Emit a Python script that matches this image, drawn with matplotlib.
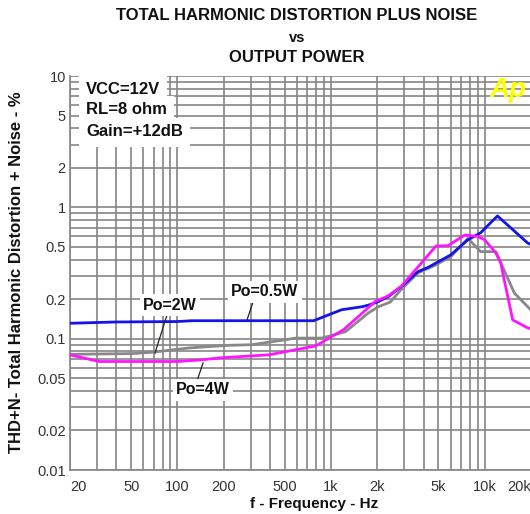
import matplotlib
matplotlib.use("Agg")
import matplotlib.pyplot as plt
from matplotlib.ticker import FixedLocator, LogLocator, NullFormatter

plt.rcParams['font.family'] = ['Liberation Sans', 'DejaVu Sans']

# ---- data ----
freq_05 = [20, 40, 100, 125, 200, 770, 1170, 1590, 1750, 2000, 2360, 2860, 3680, 4300, 6000, 7760, 9400, 12100, 19000, 20000]
thd_05 = [0.131, 0.134, 0.135, 0.137, 0.137, 0.137, 0.166, 0.175, 0.18, 0.19, 0.209, 0.249, 0.324, 0.35, 0.434, 0.565, 0.64, 0.86, 0.536, 0.52]

freq_2 = [20, 51, 70, 119, 216, 306, 500, 589, 869, 1240, 1750, 2030, 2430, 2860, 3680, 4700, 6000, 7760, 9400, 11800, 15600, 20000]
thd_2 = [0.076, 0.077, 0.079, 0.085, 0.089, 0.090, 0.098, 0.101, 0.101, 0.113, 0.157, 0.175, 0.19, 0.237, 0.317, 0.36, 0.42, 0.58, 0.46, 0.46, 0.222, 0.165]

freq_4 = [20, 31, 100, 145, 187, 394, 794, 1205, 1940, 2360, 2860, 4820, 5750, 7430, 9000, 10000, 11800, 12700, 15200, 19000, 20000]
thd_4 = [0.0753, 0.067, 0.067, 0.069, 0.0714, 0.0753, 0.088, 0.117, 0.192, 0.212, 0.25, 0.508, 0.51, 0.616, 0.60, 0.565, 0.45, 0.377, 0.139, 0.121, 0.119]

x_ticks = [20, 50, 100, 200, 500, 1000, 2000, 5000, 10000, 20000]
x_tick_labels = ['20', '50', '100', '200', '500', '1k', '2k', '5k', '10k', '20k']
y_ticks = [0.01, 0.02, 0.05, 0.1, 0.2, 0.5, 1, 2, 5, 10]
y_tick_labels = ['0.01', '0.02', '0.05', '0.1', '0.2', '0.5', '1', '2', '5', '10']

W, H = 530, 514
fig = plt.figure(figsize=(W / 100, H / 100), dpi=100)
ax = fig.add_axes([70 / W, (H - 470) / H, (531 - 70) / W, (470 - 76) / H])

ax.set_xscale('log')
ax.set_yscale('log')
ax.set_xlim(20, 20000)
ax.set_ylim(0.01, 10)

grid_c = '#858585'
ax.xaxis.set_major_locator(FixedLocator(x_ticks))
ax.yaxis.set_major_locator(FixedLocator(y_ticks))
ax.xaxis.set_minor_locator(LogLocator(base=10, subs=range(1, 10), numticks=50))
ax.yaxis.set_minor_locator(LogLocator(base=10, subs=range(1, 10), numticks=50))
ax.xaxis.set_minor_formatter(NullFormatter())
ax.yaxis.set_minor_formatter(NullFormatter())
ax.grid(True, which='both', color=grid_c, linewidth=1.2)
ax.set_axisbelow(True)
ax.tick_params(which='both', length=0)
ax.tick_params(axis='y', pad=3, labelsize=10.5, labelcolor='#333333')
ax.tick_params(axis='x', pad=7, labelsize=10.5, labelcolor='#333333')
ax.set_xticklabels(x_tick_labels)
ax.set_yticklabels(y_tick_labels)
xl = ax.get_xticklabels()
xl[0].set_horizontalalignment('left')
xl[-1].set_horizontalalignment('right')
for s in ['top', 'right']:
    ax.spines[s].set_visible(False)
for s in ['left', 'bottom']:
    ax.spines[s].set_color(grid_c)
    ax.spines[s].set_linewidth(1.2)

ax.plot(freq_2, thd_2, color='#888888', lw=2.0, zorder=3)
ax.plot(freq_05, thd_05, color='#1414e6', lw=2.0, zorder=4)
ax.plot(freq_4, thd_4, color='#ff14ff', lw=2.0, zorder=5)

bold = dict(fontweight='bold', color='#111111')
box = dict(facecolor='white', edgecolor='none', pad=2.5)

# condition text
for txt, ypix in [('VCC=12V', 89), ('RL=8 ohm', 110), ('Gain=+12dB', 132)]:
    fig.text(86 / W, 1 - ypix / H, txt, fontsize=12, ha='left', va='center',
             bbox=dict(facecolor='white', edgecolor='none', pad=5), zorder=10, **bold)

# curve annotations
def note(label, tx, ty, x0, y0, x1, y1):
    fig.add_artist(plt.Line2D([x0 / W, x1 / W], [1 - y0 / H, 1 - y1 / H], color='#222222', lw=0.9, zorder=9))
    fig.text(tx / W, 1 - ty / H, label, fontsize=11.5, ha='center', va='center', bbox=box, zorder=10, **bold)

note('Po=2W', 170, 305, 167, 315, 155, 353)
note('Po=0.5W', 265, 292, 253, 302, 247, 320)
note('Po=4W', 203, 390, 203, 363, 197, 381)

# Ap logo
fig.text(508 / W, 1 - 90 / H, 'Ap', fontsize=20, fontweight='bold', style='italic',
         color='#ffff00', ha='center', va='center')

# titles
fig.text(297 / W, 1 - 16 / H, 'TOTAL HARMONIC DISTORTION PLUS NOISE', fontsize=12, ha='center', va='center', **bold)
fig.text(297 / W, 1 - 38 / H, 'vs', fontsize=10.5, ha='center', va='center', **bold)
fig.text(297 / W, 1 - 57 / H, 'OUTPUT POWER', fontsize=12, ha='center', va='center', **bold)

fig.text(314 / W, 1 - 504 / H, 'f - Frequency - Hz', fontsize=11, ha='center', va='center', **bold)
fig.text(17 / W, 1 - 272 / H, 'THD+N- Total Harmonic Distortion + Noise - %', fontsize=12,
         rotation=90, ha='center', va='center', **bold)

fig.savefig('out.png', dpi=100)
